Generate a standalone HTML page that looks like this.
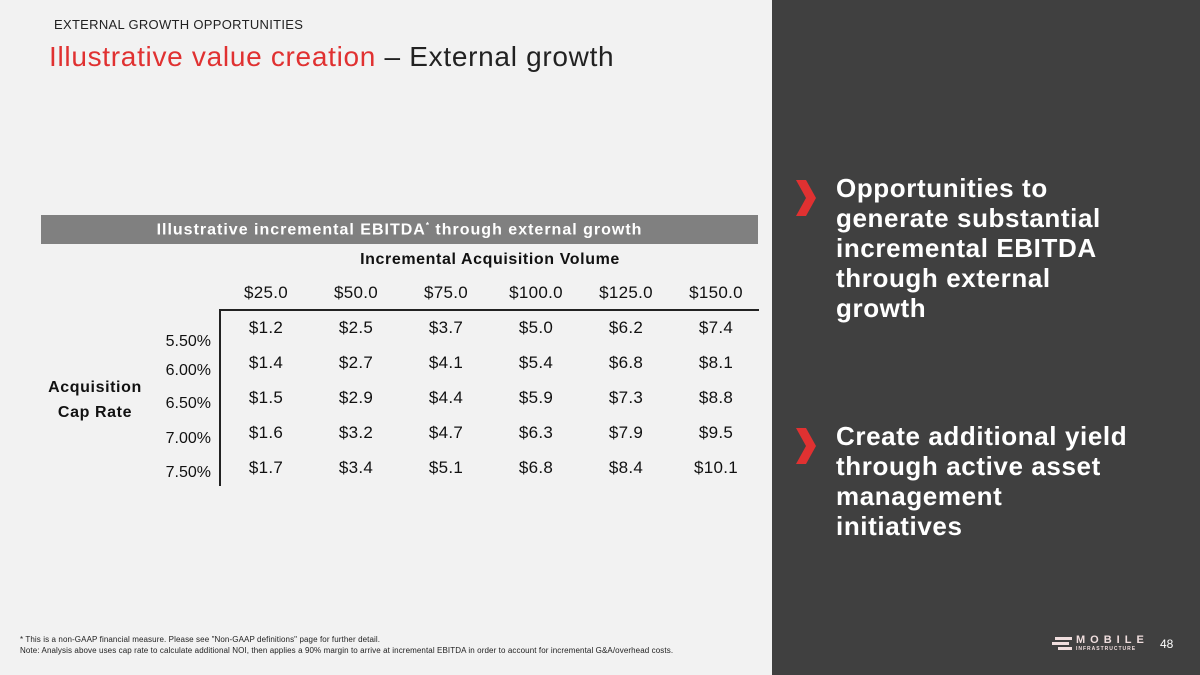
<!DOCTYPE html>
<html><head><meta charset="utf-8"><style>
body{margin:0;width:1200px;height:675px;position:relative;overflow:hidden;background:#f2f2f2;font-family:"Liberation Sans",sans-serif;}
.a{position:absolute;white-space:nowrap;}
.c{position:absolute;width:80px;text-align:center;font-size:17px;color:#111;transform:translateX(-40px);letter-spacing:0.3px}
.p{position:absolute;font-size:16px;color:#111;right:989px;}
.r{position:absolute;left:836px;color:#fff;font-weight:bold;font-size:26px;line-height:30px;letter-spacing:0.6px}
</style></head><body>
<div class="a" style="left:772px;top:0;width:428px;height:675px;background:#404040"></div>
<div class="a" style="left:54px;top:17px;font-size:13px;color:#222;letter-spacing:0.3px">EXTERNAL GROWTH OPPORTUNITIES</div>
<div class="a" style="left:49px;top:41px;font-size:28px;color:#222;letter-spacing:0.7px"><span style="color:#e03131">Illustrative value creation</span> – External growth</div>
<div class="a" style="left:41px;top:215px;width:717px;height:29px;background:#808080"></div>
<div class="a" style="left:41px;top:221px;width:717px;text-align:center;color:#fff;font-weight:bold;font-size:16px;letter-spacing:1px">Illustrative incremental EBITDA<sup style="font-size:8px">*</sup> through external growth</div>
<div class="a" style="left:290px;top:251px;width:400px;text-align:center;font-weight:bold;font-size:16px;color:#111;letter-spacing:0.6px">Incremental Acquisition Volume</div>
<div class="a" style="left:220px;top:309px;width:539px;height:2px;background:#222"></div>
<div class="a" style="left:219px;top:309px;width:2px;height:177px;background:#222"></div>
<div class="a" style="left:30px;top:375px;width:130px;text-align:center;font-weight:bold;font-size:16px;line-height:25px;color:#111;letter-spacing:0.6px">Acquisition<br>Cap Rate</div>
<div class="c" style="left:266px;top:283px">$25.0</div><div class="c" style="left:356px;top:283px">$50.0</div><div class="c" style="left:446px;top:283px">$75.0</div><div class="c" style="left:536px;top:283px">$100.0</div><div class="c" style="left:626px;top:283px">$125.0</div><div class="c" style="left:716px;top:283px">$150.0</div>
<div class="p" style="top:333px">5.50%</div><div class="p" style="top:362px">6.00%</div><div class="p" style="top:395px">6.50%</div><div class="p" style="top:430px">7.00%</div><div class="p" style="top:464px">7.50%</div>
<div class="c" style="left:266px;top:318px">$1.2</div><div class="c" style="left:356px;top:318px">$2.5</div><div class="c" style="left:446px;top:318px">$3.7</div><div class="c" style="left:536px;top:318px">$5.0</div><div class="c" style="left:626px;top:318px">$6.2</div><div class="c" style="left:716px;top:318px">$7.4</div>
<div class="c" style="left:266px;top:353px">$1.4</div><div class="c" style="left:356px;top:353px">$2.7</div><div class="c" style="left:446px;top:353px">$4.1</div><div class="c" style="left:536px;top:353px">$5.4</div><div class="c" style="left:626px;top:353px">$6.8</div><div class="c" style="left:716px;top:353px">$8.1</div>
<div class="c" style="left:266px;top:388px">$1.5</div><div class="c" style="left:356px;top:388px">$2.9</div><div class="c" style="left:446px;top:388px">$4.4</div><div class="c" style="left:536px;top:388px">$5.9</div><div class="c" style="left:626px;top:388px">$7.3</div><div class="c" style="left:716px;top:388px">$8.8</div>
<div class="c" style="left:266px;top:423px">$1.6</div><div class="c" style="left:356px;top:423px">$3.2</div><div class="c" style="left:446px;top:423px">$4.7</div><div class="c" style="left:536px;top:423px">$6.3</div><div class="c" style="left:626px;top:423px">$7.9</div><div class="c" style="left:716px;top:423px">$9.5</div>
<div class="c" style="left:266px;top:458px">$1.7</div><div class="c" style="left:356px;top:458px">$3.4</div><div class="c" style="left:446px;top:458px">$5.1</div><div class="c" style="left:536px;top:458px">$6.8</div><div class="c" style="left:626px;top:458px">$8.4</div><div class="c" style="left:716px;top:458px">$10.1</div>
<svg class="a" style="left:794px;top:180px" width="24" height="36"><polygon points="2,0 12,0 22,18 12,36 2,36 12,18" fill="#e03131"/></svg>
<svg class="a" style="left:794px;top:428px" width="24" height="36"><polygon points="2,0 12,0 22,18 12,36 2,36 12,18" fill="#e03131"/></svg>
<div class="r" style="top:173px">Opportunities to<br>generate substantial<br>incremental EBITDA<br>through external<br>growth</div>
<div class="r" style="top:421px">Create additional yield<br>through active asset<br>management<br>initiatives</div>
<div class="a" style="left:20px;top:634px;font-size:8px;color:#222;line-height:11px;letter-spacing:0.1px">* This is a non-GAAP financial measure. Please see "Non-GAAP definitions" page for further detail.<br>Note: Analysis above uses cap rate to calculate additional NOI, then applies a 90% margin to arrive at incremental EBITDA in order to account for incremental G&amp;A/overhead costs.</div>
<div class="a" style="left:1055px;top:637px;width:17px;height:3px;background:#f0dede"></div>
<div class="a" style="left:1052px;top:642px;width:17px;height:3px;background:#f0dede"></div>
<div class="a" style="left:1058px;top:647px;width:14px;height:3px;background:#f0dede"></div>
<div class="a" style="left:1076px;top:634px;font-size:11px;font-weight:bold;color:#f0dede;letter-spacing:5px">MOBILE</div>
<div class="a" style="left:1076px;top:646px;font-size:5px;font-weight:bold;color:#f0dede;letter-spacing:1px">INFRASTRUCTURE</div>
<div class="a" style="left:1160px;top:637px;font-size:12px;color:#fff">48</div>
</body></html>
